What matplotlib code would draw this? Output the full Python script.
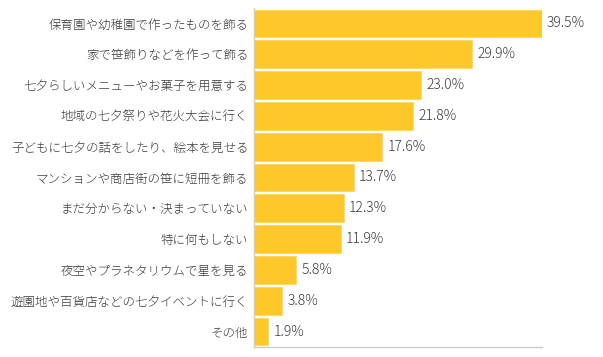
import matplotlib.pyplot as plt

plt.rcParams['font.family'] = ['Noto Sans CJK JP', 'DejaVu Sans']

labels = [
    '保育園や幼稚園で作ったものを飾る',
    '家で笹飾りなどを作って飾る',
    '七夕らしいメニューやお菓子を用意する',
    '地域の七夕祭りや花火大会に行く',
    '子どもに七夕の話をしたり、絵本を見せる',
    'マンションや商店街の笹に短冊を飾る',
    'まだ分からない・決まっていない',
    '特に何もしない',
    '夜空やプラネタリウムで星を見る',
    '遊園地や百貨店などの七夕イベントに行く',
    'その他',
]
values = [39.5, 29.9, 23.0, 21.8, 17.6, 13.7, 12.3, 11.9, 5.8, 3.8, 1.9]

BAR_COLOR = '#FFC82A'
TEXT_COLOR = '#3a3a3a'

fig = plt.figure(figsize=(6.03, 3.57), dpi=100)
ax = fig.add_axes([254 / 603, 10 / 357, 287.5 / 603, 339 / 357])

ypos = list(range(len(values)))
ax.barh(ypos, values, height=0.9, color=BAR_COLOR, edgecolor='#FFD55A',
        linewidth=0.6, zorder=2)

for y, v in zip(ypos, values):
    ax.text(v + 0.75, y, f'{v:.1f}%', va='center', ha='left',
            fontsize=10, color=TEXT_COLOR, fontweight='light')

ax.set_xlim(0, 39.5)
ax.set_ylim(len(values) - 0.5, -0.5)
ax.set_yticks(ypos)
ax.set_yticklabels(labels, fontsize=9, color=TEXT_COLOR, fontweight='light')
ax.tick_params(axis='y', length=0, pad=4)
ax.set_xticks([])

for side in ['top', 'right']:
    ax.spines[side].set_visible(False)
for side in ['left', 'bottom']:
    ax.spines[side].set_color('#cccccc')
    ax.spines[side].set_linewidth(1)

fig.savefig('out.png', dpi=100)
